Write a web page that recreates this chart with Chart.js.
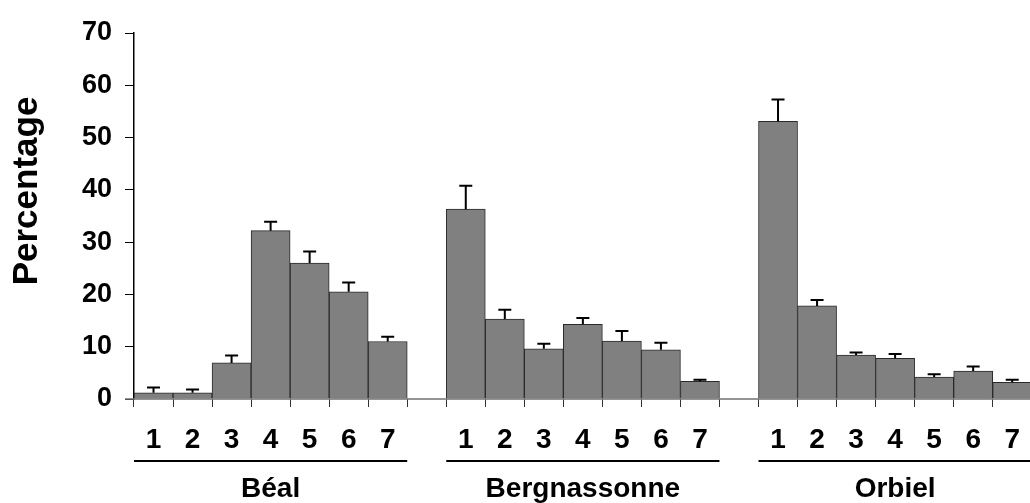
<!DOCTYPE html>
<html>
<head>
<meta charset="utf-8">
<script src="https://cdn.jsdelivr.net/npm/chart.js@4"></script>
<style>
  html, body { margin: 0; padding: 0; background: #fff; overflow: hidden; }
  #wrap { width: 1036px; height: 503px; }
</style>
</head>
<body>
<div id="wrap"><canvas id="c" width="1036" height="503"></canvas></div>
<script>
// ---- data ----
const groups = ['Béal', 'Bergnassonne', 'Orbiel'];
const classLabels = ['1', '2', '3', '4', '5', '6', '7'];
const bealValues = [1.2, 1.2, 6.9, 32.2, 26.0, 20.5, 11.0];
const bealErrors = [1.0, 0.6, 1.4, 1.7, 2.2, 1.8, 0.9];
const bergnassonneValues = [36.3, 15.3, 9.6, 14.3, 11.1, 9.4, 3.4];
const bergnassonneErrors = [4.5, 1.75, 0.95, 1.2, 1.9, 1.35, 0.3];
const orbielValues = [53.1, 17.8, 8.4, 7.8, 4.2, 5.35, 3.2];
const orbielErrors = [4.2, 1.15, 0.5, 0.8, 0.55, 0.85, 0.5];
const yTicks = [0, 10, 20, 30, 40, 50, 60, 70];

// ---- build category table (one empty slot between groups) ----
const groupValues = [bealValues, bergnassonneValues, orbielValues];
const groupErrors = [bealErrors, bergnassonneErrors, orbielErrors];
const labels = [], values = [], errors = [], groupSpans = [];
groups.forEach((g, gi) => {
  const start = labels.length;
  classLabels.forEach((c, ci) => {
    labels.push(c);
    values.push(groupValues[gi][ci]);
    errors.push(groupErrors[gi][ci]);
  });
  groupSpans.push({ name: g, first: start, last: labels.length - 1 });
  if (gi < groups.length - 1) { labels.push(''); values.push(null); errors.push(null); }
});

const FONT = '"Liberation Sans", Arial, Helvetica, sans-serif';

const decorPlugin = {
  id: 'decor',
  afterDatasetsDraw(chart) {
    const { ctx, chartArea, scales } = chart;
    const x = scales.x, y = scales.y;
    const meta = chart.getDatasetMeta(0);
    ctx.save();
    // error bars (upward only)
    ctx.strokeStyle = '#000';
    ctx.lineWidth = 2;
    meta.data.forEach((bar, i) => {
      if (values[i] == null) return;
      const top = y.getPixelForValue(values[i]);
      const up = y.getPixelForValue(values[i] + errors[i]);
      const cx = bar.x;
      ctx.beginPath();
      ctx.moveTo(cx, top);
      ctx.lineTo(cx, up);
      ctx.moveTo(cx - 6.5, up);
      ctx.lineTo(cx + 6.5, up);
      ctx.stroke();
    });
    // x axis line (extends left of the y axis like the reference)
    const y0 = y.getPixelForValue(0);
    ctx.strokeStyle = '#707070';
    ctx.lineWidth = 1.5;
    ctx.beginPath();
    ctx.moveTo(chartArea.left - 9, y0);
    ctx.lineTo(chartArea.right, y0);
    ctx.stroke();
    // group underlines and names
    const half = (x.getPixelForValue(1) - x.getPixelForValue(0)) / 2;
    groupSpans.forEach(s => {
      const l = x.getPixelForValue(s.first) - half;
      const r = x.getPixelForValue(s.last) + half;
      ctx.strokeStyle = '#000';
      ctx.lineWidth = 2;
      ctx.beginPath();
      ctx.moveTo(l, 461);
      ctx.lineTo(r, 461);
      ctx.stroke();
      ctx.fillStyle = '#000';
      ctx.font = 'bold 28px ' + FONT;
      ctx.textAlign = 'center';
      ctx.textBaseline = 'middle';
      ctx.fillText(s.name, (l + r) / 2, 489);
    });
    // y axis title
    ctx.save();
    ctx.translate(27, 191);
    ctx.rotate(-Math.PI / 2);
    ctx.font = 'bold 35px ' + FONT;
    ctx.textAlign = 'center';
    ctx.textBaseline = 'middle';
    ctx.fillText('Percentage', 0, 0);
    ctx.restore();
    ctx.restore();
  }
};

new Chart(document.getElementById('c'), {
  type: 'bar',
  data: {
    labels: labels,
    datasets: [{
      data: values,
      backgroundColor: '#808080',
      borderColor: '#2a2a2a',
      borderWidth: 1,
      barPercentage: 1,
      categoryPercentage: 1
    }]
  },
  options: {
    responsive: false,
    animation: false,
    events: [],
    layout: { padding: { top: 33, left: 0, right: 0, bottom: 0 } },
    plugins: { legend: { display: false }, tooltip: { enabled: false } },
    scales: {
      x: {
        offset: true,
        border: { display: false },
        grid: { display: true, offset: true, drawOnChartArea: false, drawTicks: true, tickLength: 8, color: '#333', lineWidth: 1 },
        ticks: { color: '#000', font: { family: FONT, size: 28, weight: 'bold' }, padding: 16, maxRotation: 0, autoSkip: false },
        afterFit(s) { s.height = 104; }
      },
      y: {
        min: 0, max: 70,
        border: { display: true, color: '#000', width: 1.5 },
        grid: { display: true, drawOnChartArea: false, drawTicks: true, tickLength: 9, color: '#000' },
        afterBuildTicks(s) { s.ticks = yTicks.map(v => ({ value: v })); },
        ticks: { color: '#000', font: { family: FONT, size: 27, weight: 'bold' }, padding: 13 },
        afterFit(s) { s.width = 134; }
      }
    }
  },
  plugins: [decorPlugin]
});
</script>
</body>
</html>
